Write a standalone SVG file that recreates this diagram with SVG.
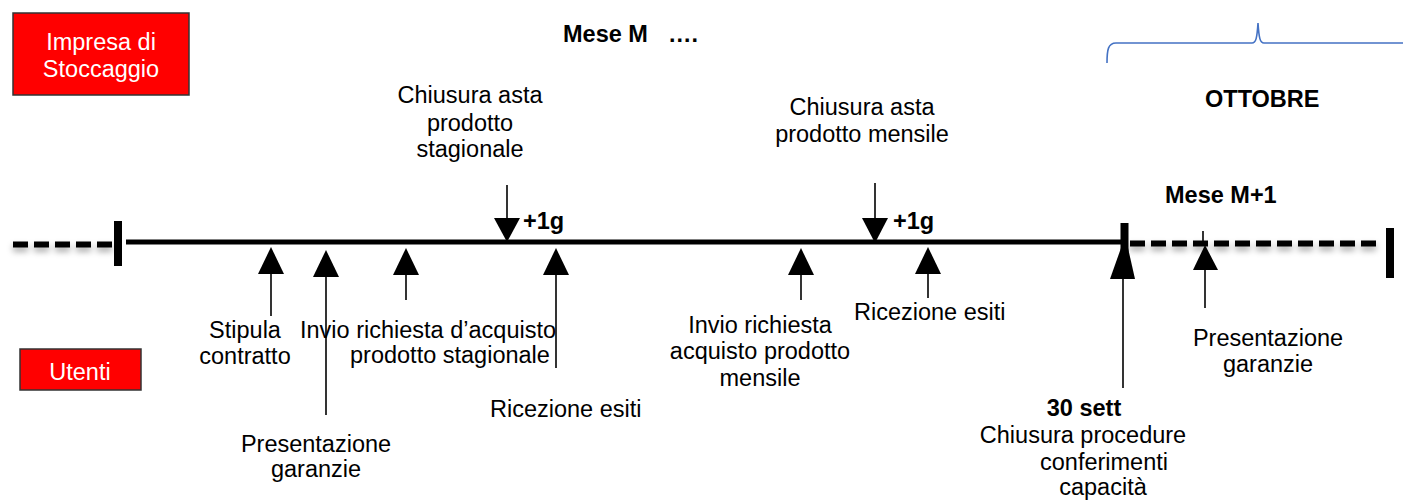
<svg xmlns="http://www.w3.org/2000/svg" width="1403" height="502" viewBox="0 0 1403 502">
<style>
text{font-family:"Liberation Sans",Arial,sans-serif;font-size:23.5px;fill:#000}
.b{font-weight:bold}
.w{fill:#fff}
.m{text-anchor:middle}
.box{fill:#ff0000;stroke:#333;stroke-width:1.5}
.ln{stroke:#000;stroke-width:1.6;fill:none}
.hd{fill:#000}
.main{stroke:#000;stroke-width:5;fill:none}
.dash{stroke:#000;stroke-width:6;stroke-dasharray:15 6;fill:none}
.tick{stroke:#000;stroke-width:8}
</style>
<defs>
<filter id="sh" filterUnits="userSpaceOnUse" x="0" y="220" width="1403" height="50">
<feDropShadow dx="0" dy="4" stdDeviation="3" flood-color="#000" flood-opacity="0.35"/>
</filter>
</defs>

<g id="impresa">
<rect class="box" x="13" y="13" width="176" height="82"/>
<text class="w m" x="101" y="50">Impresa di</text>
<text class="w m" x="101" y="77">Stoccaggio</text>
</g>
<g id="utenti">
<rect class="box" x="20" y="349" width="121" height="41"/>
<text class="w m" x="80" y="380">Utenti</text>
</g>

<g id="headers">
<text class="b" x="563" y="42">Mese M</text>
<text class="b" x="668" y="42">….</text>
<path d="M1107,63 C1107,50 1108,43 1116,43 L1252,43 C1256,43 1257,38 1258,23 C1259,38 1260,43 1264,43 L1403,43" stroke="#4472c4" stroke-width="1.6" fill="none"/>
<text class="b" x="1205" y="107">OTTOBRE</text>
<text class="b" x="1165" y="203">Mese M+1</text>
</g>

<g id="timeline">
<path class="dash" d="M13,244.5 H113" filter="url(#sh)"/>
<line class="tick" x1="118" y1="221" x2="118" y2="266"/>
<path class="main" d="M126,242 H1124"/>
<path class="dash" d="M1130,243.5 H1380" filter="url(#sh)"/>
<line class="tick" x1="1124.5" y1="223" x2="1124.5" y2="252"/>
<line class="tick" x1="1390" y1="228" x2="1390" y2="278"/>
<line class="ln" x1="1203" y1="231" x2="1203" y2="246"/>
</g>

<g id="connectors">
<line class="ln" x1="507" y1="185" x2="507" y2="219"/>
<polygon class="hd" points="494,218 520,218 507,242"/>
<line class="ln" x1="875" y1="183" x2="875" y2="219"/>
<polygon class="hd" points="862,218 888,218 875,243"/>

<polygon class="hd" points="271,247 258,274 284,274"/>
<line class="ln" x1="271" y1="273" x2="271" y2="316"/>
<polygon class="hd" points="326,250 313,277 339,277"/>
<line class="ln" x1="326" y1="276" x2="326" y2="415"/>
<polygon class="hd" points="406,248 393,275 419,275"/>
<line class="ln" x1="406" y1="274" x2="406" y2="300"/>
<polygon class="hd" points="556,248 543,275 569,275"/>
<line class="ln" x1="556" y1="274" x2="556" y2="368"/>
<polygon class="hd" points="801,248 788,275 814,275"/>
<line class="ln" x1="801" y1="274" x2="801" y2="300"/>
<polygon class="hd" points="928,247 915,274 941,274"/>
<line class="ln" x1="928" y1="273" x2="928" y2="298"/>
<polygon class="hd" points="1121,248 1128,248 1135,279 1110,279"/>
<line class="ln" x1="1123" y1="278" x2="1123" y2="388"/>
<polygon class="hd" points="1205,245 1193,270 1218,270"/>
<line class="ln" x1="1205" y1="269" x2="1205" y2="308"/>
</g>

<g id="labels-top">
<text class="m" x="470" y="103">Chiusura asta</text>
<text class="m" x="470" y="131">prodotto</text>
<text class="m" x="470" y="157">stagionale</text>
<text class="b" x="523" y="229">+1g</text>
<text class="m" x="862" y="115">Chiusura asta</text>
<text class="m" x="862" y="142">prodotto mensile</text>
<text class="b" x="893" y="229">+1g</text>
</g>

<g id="labels-bottom">
<text class="m" x="245" y="338">Stipula</text>
<text class="m" x="245" y="364">contratto</text>
<text x="300" y="338">Invio richiesta d’acquisto</text>
<text x="350" y="363">prodotto stagionale</text>
<text class="m" x="316" y="452">Presentazione</text>
<text class="m" x="316" y="477">garanzie</text>
<text x="490" y="417">Ricezione esiti</text>
<text class="m" x="760" y="333">Invio richiesta</text>
<text class="m" x="760" y="359">acquisto prodotto</text>
<text class="m" x="760" y="386">mensile</text>
<text x="854" y="320">Ricezione esiti</text>
<text class="m" x="1268" y="346">Presentazione</text>
<text class="m" x="1268" y="372">garanzie</text>
<text class="b m" x="1084" y="416">30 sett</text>
<text class="m" x="1083" y="443">Chiusura procedure</text>
<text class="m" x="1104" y="470">conferimenti</text>
<text class="m" x="1103" y="495">capacità</text>
</g>
</svg>
